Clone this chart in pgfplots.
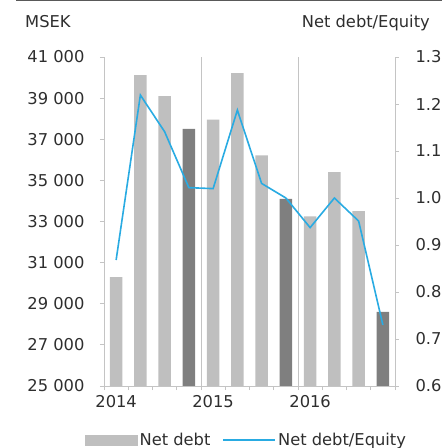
\documentclass[border=0pt]{standalone}
\usepackage{fontspec}
\setmainfont{DejaVu Sans}
\usepackage{pgfplots}
\pgfplotsset{compat=1.18}
\definecolor{lightbar}{HTML}{BFBFBF}
\definecolor{darkbar}{HTML}{7F7F7F}
\definecolor{blueline}{HTML}{29ABE2}
\definecolor{axisgray}{HTML}{C4C4C4}
\definecolor{textcol}{HTML}{2E2E2E}
\newcommand{\chartfont}{\fontsize{16.3}{19}\selectfont}
\begin{document}
\begin{tikzpicture}
\path[use as bounding box] (0pt,0pt) rectangle (442pt,448pt);
\draw[line width=1.4pt, black!65] (16pt,447.3pt) -- (442pt,447.3pt);
\node[anchor=base west, text=textcol, font=\chartfont, inner sep=0pt] at (25pt,420pt) {MSEK};
\node[anchor=base east, text=textcol, font=\chartfont, inner sep=0pt] at (430pt,420pt) {Net debt/Equity};
% left axis: bars
\begin{axis}[
  at={(104pt,62pt)}, anchor=south west,
  scale only axis, width=291pt, height=329pt,
  xmin=-0.5, xmax=11.5, ymin=25000, ymax=41000,
  scaled y ticks=false,
  axis x line*=bottom, axis y line*=left,
  axis line style={draw=axisgray, line width=0.9pt},
  tick style={draw=axisgray, line width=0.9pt},
  tick align=outside, major tick length=4pt,
  ytick={25000,27000,29000,31000,33000,35000,37000,39000,41000},
  yticklabels={25 000,27 000,29 000,31 000,33 000,35 000,37 000,39 000,41 000},
  xtick={-0.5,0.5,1.5,2.5,3.5,4.5,5.5,6.5,7.5,8.5,9.5,10.5,11.5},
  xticklabels={},
  extra x ticks={0,4,8},
  extra x tick labels={2014,2015,2016},
  extra x tick style={major tick length=0pt, xticklabel style={yshift=-6pt}},
  ticklabel style={font=\chartfont, text=textcol},
  yticklabel style={xshift=-12pt},
  ybar, bar width=12.3pt,
  clip=true,
]
\addplot[fill=lightbar, draw=none, bar shift=0pt] coordinates {
  (0,30300) (1,40120) (2,39100) (4,37950) (5,40220) (6,36220) (8,33250) (9,35400) (10,33500)};
\addplot[fill=darkbar, draw=none, bar shift=0pt] coordinates {
  (3,37500) (7,34100) (11,28600)};
\end{axis}
% right axis: ratio line
\begin{axis}[
  at={(104pt,62pt)}, anchor=south west,
  scale only axis, width=291pt, height=329pt,
  xmin=-0.5, xmax=11.5, ymin=0.6, ymax=1.3,
  axis x line*=bottom, axis y line*=right,
  x axis line style={draw=none},
  y axis line style={draw=axisgray, line width=0.9pt},
  ytick style={draw=axisgray, line width=0.9pt},
  xtick style={draw=none},
  tick align=outside, major tick length=4pt,
  xtick={3.5,7.5}, xticklabels={},
  xmajorgrids, major grid style={draw=axisgray, line width=0.9pt},
  ytick={0.6,0.7,0.8,0.9,1.0,1.1,1.2,1.3},
  yticklabels={0.6,0.7,0.8,0.9,1.0,1.1,1.2,1.3},
  ticklabel style={font=\chartfont, text=textcol},
  yticklabel style={xshift=13pt},
  legend style={at={(0.49,-0.164)}, anchor=center, draw=none, fill=none,
    legend columns=2, font=\chartfont, text=textcol,
    /tikz/every even column/.append style={column sep=10pt}},
  legend cell align=left,
]
\addlegendimage{legend image code/.code={\fill[lightbar] (0pt,-5pt) rectangle (52pt,5pt);}}
\addlegendentry{Net debt}
\addplot[draw=blueline, line width=1.6pt, mark=none,
  legend image code/.code={\draw[blueline, line width=1.6pt] (0pt,0pt) -- (52pt,0pt);}]
  coordinates {(0,0.868) (1,1.219) (2,1.141) (3,1.022) (4,1.020) (5,1.187)
    (6,1.031) (7,1.000) (8,0.937) (9,1.000) (10,0.951) (11,0.730)};
\addlegendentry{Net debt/Equity}
\end{axis}
\end{tikzpicture}
\end{document}
